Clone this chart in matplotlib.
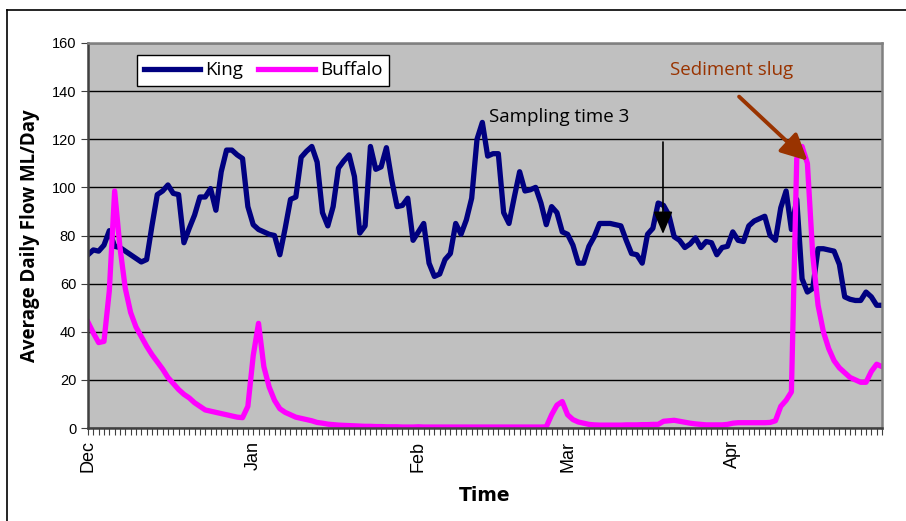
import matplotlib
matplotlib.use("Agg")
import matplotlib.pyplot as plt
from matplotlib.lines import Line2D
from matplotlib.ticker import MultipleLocator, FixedLocator

# daily flow, 1 Dec to 29 Apr (150 days)
king = [72, 74, 73.5, 76, 82, 75.5, 75, 73.5, 72, 70.5,
        69, 70, 84, 97, 98.5, 101, 97.5, 97, 77, 83,
        88.5, 96, 96, 99.5, 90.5, 106.5, 115.5, 115.5, 113.5, 112,
        92, 84.5, 82.5, 81.5, 80.5, 80, 72, 83, 95, 96,
        112.5, 115, 117, 110.5, 89.5, 84, 92, 108, 111, 113.5,
        104.5, 81, 84, 117, 107.5, 108.5, 116.5, 103, 92, 92.5,
        95.5, 78, 81.5, 85, 68.5, 63, 64, 70, 72.5, 85,
        80.5, 86.5, 95.5, 120, 127, 113, 114, 114, 89.5, 85,
        96, 106.5, 98.5, 99, 100, 93.5, 84.5, 92, 89.5, 81.5,
        80.5, 76, 68.5, 68.5, 75.5, 79.5, 85, 85, 85, 84.5,
        84, 78, 72.5, 72, 68.5, 80.5, 83, 93.5, 92.5, 88.5,
        79.5, 78, 75, 76.5, 79, 75, 77.5, 77, 72, 75,
        75.5, 81.5, 78, 77.5, 84, 86, 87, 88, 80, 78,
        91.5, 98.5, 82.5, 95, 62, 56.5, 58, 74.5, 74.5, 74,
        73.5, 68, 54.5, 53.5, 53, 53, 56.5, 54.5, 51, 51]

buffalo = [44, 39.5, 35.5, 36, 57, 98.5, 75, 58, 48, 42,
           38, 34, 30.5, 27.5, 24.5, 21, 18.5, 16, 14, 12.5,
           10.5, 9, 7.5, 7, 6.5, 6, 5.5, 5, 4.5, 4.3,
           9, 30, 43.5, 25.5, 17, 11.5, 8, 6.5, 5.5, 4.5,
           4, 3.5, 3, 2.3, 2, 1.6, 1.4, 1.2, 1.1, 1,
           0.9, 0.8, 0.7, 0.7, 0.6, 0.6, 0.5, 0.5, 0.5, 0.4,
           0.4, 0.4, 0.5, 0.4, 0.4, 0.4, 0.4, 0.4, 0.4, 0.4,
           0.4, 0.4, 0.4, 0.4, 0.4, 0.4, 0.4, 0.4, 0.4, 0.4,
           0.4, 0.4, 0.4, 0.4, 0.4, 0.4, 0.5, 5.5, 9.5, 11,
           5.5, 3.5, 2.5, 2, 1.5, 1.3, 1.2, 1.2, 1.2, 1.2,
           1.2, 1.3, 1.3, 1.3, 1.4, 1.4, 1.5, 1.5, 2.8, 3,
           3.2, 2.8, 2.4, 2, 1.7, 1.5, 1.3, 1.3, 1.3, 1.3,
           1.5, 2, 2.2, 2.2, 2.2, 2.2, 2.2, 2.2, 2.3, 3,
           9, 11.5, 15, 112, 117, 110, 72, 51, 40, 33,
           28, 25, 23, 21, 20, 19, 19, 23.5, 26.5, 25.5]

months = ["Dec", "Jan", "Feb", "Mar", "Apr"]
month_start = [0, 31, 62, 90, 121]

days = list(range(len(king)))

fig = plt.figure(figsize=(9.06, 5.21), dpi=100)
ax = fig.add_axes([88 / 906, 93 / 521, 794 / 906, 385 / 521])
ax.set_facecolor("#C0C0C0")

ax.plot(days, king, color="#000080", lw=3.8, label="King", solid_joinstyle="round")
ax.plot(days, buffalo, color="#FF00FF", lw=3.8, label="Buffalo", solid_joinstyle="round")

ax.set_xlim(0, len(king) - 1)
ax.set_ylim(0, 160)
ax.yaxis.set_major_locator(MultipleLocator(20))
ax.grid(axis="y", color="black", lw=1.0)
ax.set_axisbelow(True)

ax.xaxis.set_major_locator(FixedLocator(month_start))
ax.set_xticklabels(months, rotation=90, fontsize=13, family="Liberation Sans")
ax.xaxis.set_minor_locator(MultipleLocator(1))
ax.tick_params(axis="x", which="both", direction="out", length=5, width=0.8, color="#404040", pad=4)
ax.tick_params(axis="y", direction="out", length=5, width=0.8, color="#404040", labelsize=10.5)
for t in ax.get_yticklabels():
    t.set_family("Liberation Sans")

for s in ax.spines.values():
    s.set_color("#808080")
    s.set_linewidth(1.8)
ax.spines["left"].set_color("#404040")
ax.spines["bottom"].set_color("#404040")

ax.set_ylabel("Average Daily Flow ML/Day", fontsize=13.5, fontweight="bold",
              family="Open Sans", labelpad=8)
ax.set_xlabel("Time", fontsize=13.5, fontweight="bold", family="Liberation Sans Narrow",
              labelpad=10)

leg = ax.legend(loc="upper left", bbox_to_anchor=(0.0617, 0.97), borderaxespad=0,
                ncol=2, frameon=True, fancybox=False, edgecolor="black", framealpha=1,
                handlelength=3.0, columnspacing=0.8, handletextpad=0.3, borderpad=0.35,
                prop={"family": "Open Sans", "size": 13.5})
leg.get_frame().set_linewidth(1.0)

# annotations
ax.text(75.2, 127, "Sampling time 3", fontsize=13.5, family="Open Sans", color="black")
ax.annotate("", xy=(107.9, 79.5), xytext=(107.9, 120),
            arrowprops=dict(arrowstyle="-|>,head_length=1.4,head_width=0.6",
                            color="black", lw=1.2))
ax.text(109.3, 146.5, "Sediment slug", fontsize=13.5, family="Open Sans", color="#993300")
ax.annotate("", xy=(135.4, 110.3), xytext=(121.8, 138.5),
            arrowprops=dict(arrowstyle="-|>,head_length=1.6,head_width=0.8",
                            color="#993300", lw=2.8))

# outer frame (top and left visible)
fig.add_artist(Line2D([7 / 906, 1], [1 - 10 / 521, 1 - 10 / 521], color="black", lw=1.2,
                      transform=fig.transFigure))
fig.add_artist(Line2D([7 / 906, 7 / 906], [0, 1 - 10 / 521], color="black", lw=1.2,
                      transform=fig.transFigure))

fig.savefig("out.png", dpi=100)
